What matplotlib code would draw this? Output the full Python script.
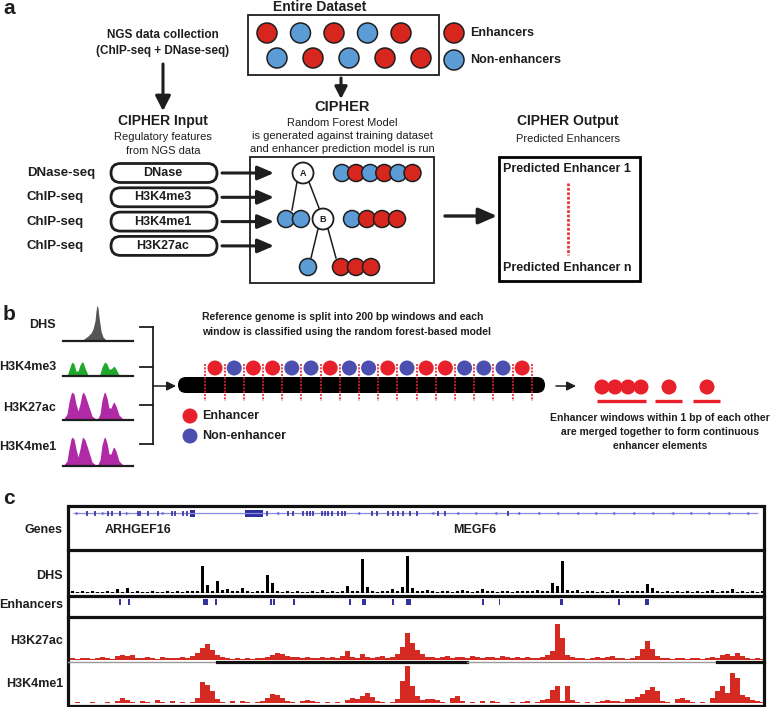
'''
CIPHER overview figure: model schematic (a), genome windowing (b)
and an example locus with DHS, predicted enhancers and histone marks (c)
'''

import matplotlib
matplotlib.use('Agg')
import matplotlib.pyplot as plt
import numpy as np
from matplotlib.patches import Circle, FancyBboxPatch

plt.rcParams['font.family'] = ['Liberation Sans', 'DejaVu Sans']

# ---------------- data ----------------
# a: class of each example (E = enhancer, N = non-enhancer)
DATASET_TOP = ['E', 'N', 'E', 'N', 'E']
DATASET_BOTTOM = ['N', 'E', 'N', 'E', 'E']
ASSAYS = ['DNase-seq', 'ChIP-seq', 'ChIP-seq', 'ChIP-seq']
FEATURES = ['DNase', 'H3K4me3', 'H3K4me1', 'H3K27ac']
NODE_A_SAMPLES = ['N', 'E', 'N', 'E', 'N', 'E']
NODE_B_SAMPLES = ['N', 'E', 'E', 'E']
LEAF_A_LEFT = ['N', 'N']
LEAF_B_LEFT = ['N']
LEAF_B_RIGHT = ['E', 'E', 'E']

# b: call for each 200 bp window, and size of merged elements
WINDOW_CALLS = ['E', 'N', 'E', 'E', 'N', 'N', 'E', 'N', 'N', 'E',
                'N', 'E', 'E', 'N', 'N', 'N', 'E']
MERGED_ELEMENTS = [4, 1, 1]
MINI_LABELS = ['DHS', 'H3K4me3', 'H3K27ac', 'H3K4me1']
MINI_DHS_POS = [0, 17, 21, 25, 28, 30, 32, 33, 34, 35, 36, 38, 40, 43, 47, 70]
MINI_DHS = [0, 0, 2, 5, 8, 12, 20, 30, 36, 33, 24, 10, 4, 1, 0, 0]
MINI_MARK_POS = [0, 4, 6, 8, 9, 11, 13, 15, 17, 19, 20, 22, 25, 29, 34, 37,
                 39, 41, 42, 44, 46, 48, 50, 51, 53, 56, 60, 70]
MINI_H3K4ME3 = [0, 0, 6, 12, 14, 12, 5, 5, 11, 14, 14, 8, 1, 0, 0, 2,
                9, 13, 14, 12, 7, 7, 9, 10, 7, 1, 0, 0]
MINI_H3K27AC = [0, 6, 18, 26, 28, 26, 16, 9, 16, 26, 28, 25, 16, 4, 0, 6,
                20, 27, 28, 22, 12, 12, 17, 18, 14, 5, 1, 0]
MINI_H3K4ME1 = [0, 5, 17, 27, 29, 27, 17, 9, 17, 27, 29, 26, 17, 4, 0, 6,
                21, 28, 29, 23, 12, 12, 18, 19, 15, 5, 1, 0]

# c: locus, 1 unit = 1 bin
TRACK_LABELS = ['Genes', 'DHS', 'Enhancers', 'H3K27ac', 'H3K4me1']
DHS_SIGNAL = [
    2, 1, 2, 1, 2, 1, 1, 2, 1, 4, 1, 5, 1, 2, 1, 1, 2, 1, 1, 2,
    1, 2, 1, 2, 2, 2, 27, 8, 2, 12, 3, 4, 2, 2, 5, 2, 1, 2, 2, 18,
    10, 2, 1, 2, 1, 2, 1, 1, 2, 1, 3, 1, 2, 1, 2, 7, 2, 2, 34, 6,
    2, 1, 2, 2, 4, 2, 6, 37, 5, 2, 2, 3, 2, 1, 2, 2, 1, 2, 3, 2,
    1, 2, 4, 2, 2, 1, 2, 2, 1, 2, 2, 2, 2, 3, 2, 2, 10, 7, 32, 3,
    2, 3, 1, 2, 2, 1, 2, 1, 3, 2, 1, 2, 2, 2, 2, 9, 5, 2, 1, 2,
    1, 2, 1, 2, 1, 2, 1, 2, 3, 1, 2, 2, 4, 1, 2, 1, 2, 1, 2]
H3K27AC_SIGNAL = [
    2, 1, 2, 2, 1, 2, 3, 2, 1, 4, 5, 4, 5, 2, 2, 3, 2, 1, 3, 2,
    2, 2, 3, 2, 4, 7, 12, 16, 10, 5, 3, 2, 1, 2, 1, 2, 1, 2, 2, 3,
    5, 7, 6, 4, 3, 3, 2, 3, 2, 2, 3, 2, 3, 2, 4, 9, 3, 2, 6, 3,
    2, 3, 4, 2, 3, 6, 13, 27, 17, 10, 6, 3, 3, 2, 3, 4, 2, 3, 3, 2,
    4, 3, 2, 3, 3, 2, 4, 3, 2, 3, 2, 3, 2, 2, 3, 5, 9, 36, 22, 5,
    3, 2, 2, 1, 2, 3, 2, 3, 4, 2, 2, 1, 2, 4, 11, 19, 11, 4, 2, 2,
    1, 2, 2, 1, 2, 2, 1, 2, 3, 2, 5, 6, 4, 7, 4, 2, 1, 2, 1]
H3K4ME1_SIGNAL = [
    0, 1, 0, 0, 1, 0, 0, 1, 0, 2, 5, 3, 1, 0, 2, 1, 0, 3, 1, 0,
    2, 0, 1, 0, 1, 5, 21, 18, 12, 4, 1, 0, 2, 0, 2, 1, 0, 1, 2, 5,
    9, 8, 5, 2, 1, 0, 2, 3, 2, 1, 0, 1, 0, 1, 0, 3, 5, 4, 7, 10,
    6, 2, 1, 0, 1, 4, 22, 37, 17, 7, 3, 4, 4, 3, 1, 0, 5, 7, 2, 0,
    1, 0, 2, 0, 2, 1, 0, 0, 1, 0, 1, 2, 0, 1, 3, 4, 13, 17, 2, 17,
    3, 1, 0, 1, 0, 1, 2, 3, 2, 2, 1, 4, 4, 6, 9, 13, 16, 12, 2, 1,
    0, 4, 5, 3, 1, 0, 1, 0, 5, 12, 17, 10, 30, 25, 8, 6, 3, 2, 1]
ENHANCERS = [(9.7, 10.1), (11.5, 11.9), (26.6, 27.6), (28.9, 29.3),
             (39.9, 40.3), (40.5, 40.9), (44.5, 44.9), (55.7, 56.1),
             (58.4, 59.2), (64.3, 64.7), (67.2, 68.2), (82.3, 82.7),
             (85.7, 86.1), (98.0, 98.6), (109.5, 109.9), (115.0, 115.8)]
ARHGEF16_EXONS = [3.4, 5.0, 7.6, 8.4, 10.0, 13.6, 14.0, 15.6, 17.6, 20.4,
                  21.0, 22.6, 23.4]
ARHGEF16_UTR = (24.0, 25.0)
ARHGEF16_STRAND = [1.4, 6.6, 11.4, 18.6]
MEGF6_EXONS = [39.4, 43.6, 44.6, 46.6, 47.4, 48.0, 48.6, 50.4, 51.0, 51.6,
               52.4, 53.6, 54.4, 55.0, 60.4, 61.4, 63.6, 64.6, 65.6, 66.6,
               68.0, 69.4, 73.6, 75.0, 87.6]
MEGF6_UTR = (35.0, 38.6)
MEGF6_STRAND = [41.4, 57.6, 72.4, 77.4, 81.0, 85.0, 89.6, 93.6, 97.4, 101.4,
                105.0, 108.6, 112.6, 116.4, 120.4, 124.0, 127.6, 131.6, 135.4]
LOCUS_LEN = 138.6

# ---------------- style ----------------
W, H = 778, 707
INK = '#1e1e1e'
RED_A, BLUE_A = '#d7261e', '#5b9bd6'
RED_B, BLUE_B = '#e8202c', '#4b4fb0'
SIG_RED = '#d42a22'
ENH_BLUE = '#33339f'
GENE_BLUE = '#2e2e9e'


def px_axes(fig, x0, y0, x1, y1):
    '''axes placed by pixel box (top-left origin)'''
    ax_ = fig.add_axes([x0 / W, 1 - y1 / H, (x1 - x0) / W, (y1 - y0) / H])
    ax_.axis('off')
    return ax_


def dot(ax_, x, y, r, fc, lw=1.1, ec=INK, z=3):
    ax_.add_patch(Circle((x, y), r, fc=fc, ec=ec, lw=lw, zorder=z))


def arrow(ax_, x0, y0, x1, y1, lw=2.2, ms=20, hl=0.45, hw=0.23):
    ax_.annotate('', xy=(x1, y1), xytext=(x0, y0),
                 arrowprops=dict(arrowstyle='-|>,head_length=%s,head_width=%s' % (hl, hw),
                                 lw=lw, color=INK, mutation_scale=ms,
                                 shrinkA=0, shrinkB=0))


def txt(ax_, x, y, s, size, bold=True, ha='center', **kw):
    ax_.text(x, y, s, fontsize=size, fontweight='bold' if bold else 'normal',
             ha=ha, va='center', color=INK, **kw)


fig = plt.figure(figsize=(W / 100, H / 100), dpi=100)
ax = fig.add_axes([0, 0, 1, 1])
ax.set_xlim(0, W)
ax.set_ylim(H, 0)
ax.axis('off')

cls_a = {'E': RED_A, 'N': BLUE_A}
cls_b = {'E': RED_B, 'N': BLUE_B}

# ================= panel a =================
txt(ax, 3, 9, 'a', 15, ha='left')
txt(ax, 320, 7, 'Entire Dataset', 10)
ax.add_patch(FancyBboxPatch((248, 15), 191, 60, boxstyle='square,pad=0',
                            fc='white', ec=INK, lw=1.3))
for i, c in enumerate(DATASET_TOP):
    dot(ax, 267 + 33.5 * i, 33, 10, cls_a[c])
for i, c in enumerate(DATASET_BOTTOM):
    dot(ax, 277 + 36 * i, 58, 10, cls_a[c])
dot(ax, 454, 33, 10, RED_A)
dot(ax, 454, 60, 10, BLUE_A)
txt(ax, 470, 33, 'Enhancers', 9, ha='left')
txt(ax, 470, 60, 'Non-enhancers', 9, ha='left')

txt(ax, 163, 35, 'NGS data collection', 8.5)
txt(ax, 163, 51, '(ChIP-seq + DNase-seq)', 8.5)
arrow(ax, 163, 64, 163, 111)
arrow(ax, 341, 78, 341, 99, lw=2.2, ms=16)

txt(ax, 163, 121, 'CIPHER Input', 10)
txt(ax, 163, 137, 'Regulatory features', 8, bold=False)
txt(ax, 163, 151, 'from NGS data', 8, bold=False)
txt(ax, 342, 107, 'CIPHER', 10.5)
txt(ax, 342, 123, 'Random Forest Model', 8, bold=False)
txt(ax, 342, 136, 'is generated against training dataset', 8, bold=False)
txt(ax, 342, 149, 'and enhancer prediction model is run', 8, bold=False)
txt(ax, 568, 121, 'CIPHER Output', 10)
txt(ax, 568, 139, 'Predicted Enhancers', 8, bold=False)

for i, (assay, feat) in enumerate(zip(ASSAYS, FEATURES)):
    y = 173 + 24.3 * i
    txt(ax, 27, y, assay, 9.5, ha='left')
    ax.add_patch(FancyBboxPatch((111, y - 9.5), 106, 19,
                                boxstyle='round,pad=0,rounding_size=9.5',
                                fc='white', ec=INK, lw=2.0))
    txt(ax, 163, y, feat, 9)
    arrow(ax, 222, y, 274, y, lw=2.2, ms=14, hl=0.7, hw=0.3)

# model box with a two-node tree
ax.add_patch(FancyBboxPatch((250, 157), 184, 126, boxstyle='square,pad=0',
                            fc='none', ec=INK, lw=1.3))
ax.plot([297, 292], [182, 210], color=INK, lw=1.1)
ax.plot([309, 319], [182, 208], color=INK, lw=1.1)
ax.plot([318, 311], [229, 258], color=INK, lw=1.1)
ax.plot([328, 336], [229, 258], color=INK, lw=1.1)
dot(ax, 303, 173, 10.5, 'white', lw=1.3)
dot(ax, 323, 219, 10.5, 'white', lw=1.3)
txt(ax, 303, 173, 'A', 6.5, zorder=5)
txt(ax, 323, 219, 'B', 6.5, zorder=5)
for i, c in enumerate(NODE_A_SAMPLES):
    dot(ax, 342 + 14.1 * i, 173, 8.5, cls_a[c], z=3 + i * 0.01)
for i, c in enumerate(NODE_B_SAMPLES):
    dot(ax, 352 + 15 * i, 219, 8.5, cls_a[c], z=3 + i * 0.01)
for i, c in enumerate(LEAF_A_LEFT):
    dot(ax, 286 + 15 * i, 219, 8.5, cls_a[c], z=3 + i * 0.01)
for i, c in enumerate(LEAF_B_LEFT):
    dot(ax, 308 + 15 * i, 267, 8.5, cls_a[c])
for i, c in enumerate(LEAF_B_RIGHT):
    dot(ax, 341 + 15 * i, 267, 8.5, cls_a[c], z=3 + i * 0.01)

arrow(ax, 445, 216, 497, 216, lw=2.4, ms=14, hl=0.8, hw=0.35)
ax.add_patch(FancyBboxPatch((499, 157), 141, 124, boxstyle='square,pad=0',
                            fc='white', ec='black', lw=2.0))
txt(ax, 503, 169, 'Predicted Enhancer 1', 9, ha='left')
txt(ax, 503, 268, 'Predicted Enhancer n', 9, ha='left')
ax.plot([568, 568], [183, 255], color='#e03a3a', lw=2.0, ls=(0, (1, 0.6)))

# ================= panel b =================
txt(ax, 3, 314, 'b', 15, ha='left')
mini = [(MINI_DHS_POS, MINI_DHS, '#555555', 341),
        (MINI_MARK_POS, MINI_H3K4ME3, '#1fa82a', 376),
        (MINI_MARK_POS, MINI_H3K27AC, '#b02aa5', 420),
        (MINI_MARK_POS, MINI_H3K4ME1, '#b02aa5', 466)]
label_y = [325, 367, 408, 447]
for (pos, vals, col, base), lab, ly in zip(mini, MINI_LABELS, label_y):
    m_ax = px_axes(fig, 63, base - 36, 133, base)
    m_ax.set_xlim(0, 70)
    m_ax.set_ylim(0, 36)
    m_ax.fill_between(pos, vals, color=col, lw=0)
    m_ax.axhline(0, color=INK, lw=1.6, clip_on=False)
    txt(ax, 56, ly, lab, 9, ha='right')

for y in [327, 367, 405, 444]:
    ax.plot([140, 153], [y, y], color=INK, lw=1.3)
ax.plot([153, 153], [327, 444], color=INK, lw=1.3)
arrow(ax, 153, 386, 176, 386, lw=1.1, ms=9, hl=0.6, hw=0.3)

txt(ax, 202, 317, 'Reference genome is split into 200 bp windows and each',
    7.5, ha='left')
txt(ax, 202, 332, 'window is classified using the random forest-based model',
    7.5, ha='left')

ax.add_patch(FancyBboxPatch((178, 377), 367, 16,
                            boxstyle='round,pad=0,rounding_size=8',
                            fc='black', ec='black', lw=0, zorder=2))
for i, c in enumerate(WINDOW_CALLS):
    dot(ax, 215 + 19.2 * i, 368, 7.5, cls_b[c], lw=0, z=3)
for k in range(len(WINDOW_CALLS) + 1):
    x = 205.4 + 19.2 * k
    ax.plot([x, x], [364, 401], color='#e8202c', lw=1.2, ls=(0, (1.2, 0.8)),
            zorder=4)

dot(ax, 190, 416, 7.5, RED_B, lw=0)
dot(ax, 190, 436, 7.5, BLUE_B, lw=0)
txt(ax, 202, 416, 'Enhancer', 9, ha='left')
txt(ax, 202, 436, 'Non-enhancer', 9, ha='left')

arrow(ax, 556, 386, 576, 386, lw=1.1, ms=9, hl=0.6, hw=0.3)
group_x = [602, 669, 707]
for gx, n in zip(group_x, MERGED_ELEMENTS):
    for j in range(n):
        dot(ax, gx + 13 * j, 387, 7.5, RED_B, lw=0, z=3 + j * 0.01)
    pad = 5 if n > 1 else 13.5
    ax.plot([gx - pad, gx + 13 * (n - 1) + pad], [401, 401],
            color=RED_B, lw=2.4, solid_capstyle='butt')
txt(ax, 660, 418, 'Enhancer windows within 1 bp of each other', 7.5)
txt(ax, 660, 432, 'are merged together to form continuous', 7.5)
txt(ax, 660, 446, 'enhancer elements', 7.5)

# ================= panel c =================
txt(ax, 3, 499, 'c', 15, ha='left')
for lab, ly in zip(TRACK_LABELS, [530, 576, 605, 641, 684]):
    txt(ax, 63, ly, lab, 9, ha='right')

ax.add_patch(FancyBboxPatch((68.5, 505.5), 696, 200, boxstyle='square,pad=0',
                            fc='none', ec='#111111', lw=2.3, zorder=6))
for y in [550, 596, 617]:
    ax.plot([68.5, 764.5], [y, y], color='#111111', lw=2.3, zorder=6)
for x0, x1, col, lw in [(68.5, 217, '#9a9a9a', 1.0), (217, 467, '#111111', 2.3),
                        (467, 717, '#9a9a9a', 1.0), (717, 764.5, '#111111', 2.3)]:
    ax.plot([x0, x1], [662, 662], color=col, lw=lw, zorder=6)

# genes
g_ax = px_axes(fig, 70, 507, 763, 548)
g_ax.set_xlim(0, LOCUS_LEN)
g_ax.set_ylim(41, 0)
g_ax.hlines(6, 0.5, LOCUS_LEN - 1, color='#8a8ae0', lw=0.9)
g_ax.vlines(ARHGEF16_EXONS + MEGF6_EXONS, 3.5, 8.5, color=GENE_BLUE, lw=1.2)
for s, e in [ARHGEF16_UTR, MEGF6_UTR]:
    g_ax.bar(s, 7, width=e - s, bottom=2.5, align='edge', color=GENE_BLUE, lw=0)
g_ax.plot(ARHGEF16_STRAND, [6] * len(ARHGEF16_STRAND), ls='none', marker='>',
          ms=2.5, color='#6a6ad8', mew=0)
g_ax.plot(MEGF6_STRAND, [6] * len(MEGF6_STRAND), ls='none', marker='<',
          ms=2.5, color='#6a6ad8', mew=0)
g_ax.text(7.0, 23, 'ARHGEF16', fontsize=9, fontweight='bold', va='center', color=INK)
g_ax.text(76.6, 23, 'MEGF6', fontsize=9, fontweight='bold', va='center', color=INK)

bins = np.arange(len(DHS_SIGNAL)) + 0.5

# DHS
d_ax = px_axes(fig, 70, 552, 763, 593)
d_ax.set_xlim(0, LOCUS_LEN)
d_ax.set_ylim(0, 41)
d_ax.bar(bins, DHS_SIGNAL, width=0.55, color='black', lw=0)
d_ax.axhline(0.5, color='black', lw=1.0)

# predicted enhancers
e_ax = px_axes(fig, 70, 597, 763, 615)
e_ax.set_xlim(0, LOCUS_LEN)
e_ax.set_ylim(18, 0)
for s, e in ENHANCERS:
    e_ax.bar(s, 5.5, width=e - s, bottom=2.2, align='edge', color=ENH_BLUE, lw=0)

# histone marks
for sig, (y0, y1, top) in [(H3K27AC_SIGNAL, (619, 660, 41)),
                           (H3K4ME1_SIGNAL, (664, 703, 39))]:
    s_ax = px_axes(fig, 70, y0, 763, y1)
    s_ax.set_xlim(0, LOCUS_LEN)
    s_ax.set_ylim(0, top)
    s_ax.bar(bins, sig, width=1.0, color=SIG_RED, lw=0)

fig.savefig('out.png', dpi=100)
